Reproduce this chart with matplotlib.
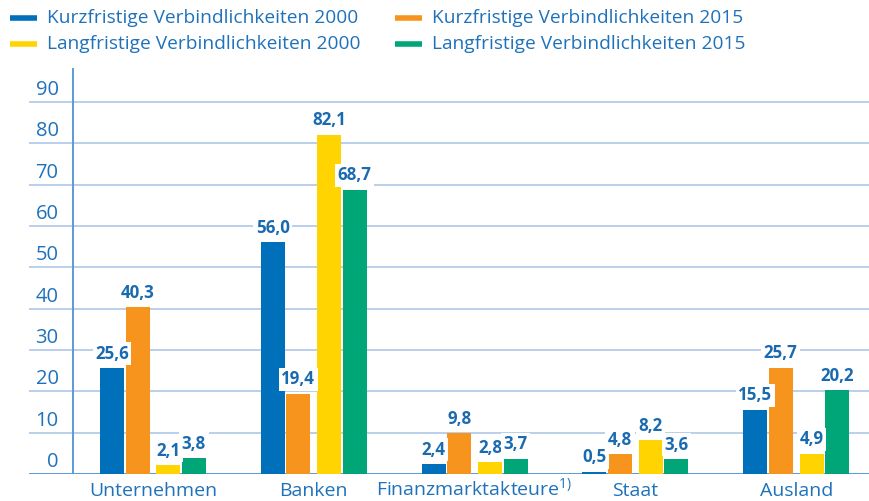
import matplotlib
matplotlib.use("Agg")
import matplotlib.pyplot as plt
import matplotlib.transforms as mtransforms
import numpy as np

categories = ["Unternehmen", "Banken", "Finanzmarktakteure$^{\\mathregular{1)}}$", "Staat", "Ausland"]
series_names = ["Kurzfristige Verbindlichkeiten 2000", "Kurzfristige Verbindlichkeiten 2015",
                "Langfristige Verbindlichkeiten 2000", "Langfristige Verbindlichkeiten 2015"]
kurz_2000 = [25.6, 56.0, 2.4, 0.5, 15.5]
kurz_2015 = [40.3, 19.4, 9.8, 4.8, 25.7]
lang_2000 = [2.1, 82.1, 2.8, 8.2, 4.9]
lang_2015 = [3.8, 68.7, 3.7, 3.6, 20.2]
yticks = [0, 10, 20, 30, 40, 50, 60, 70, 80, 90]

colors = ["#0070BA", "#F7941D", "#FFD400", "#00A678"]
text_blue = "#1F72BA"
label_blue = "#1A6AB0"
grid_col = "#AEC8E8"
axis_col = "#5B9BD5"

FONT = "Open Sans"
plt.rcParams["font.family"] = [FONT, "DejaVu Sans"]
plt.rcParams["mathtext.fontset"] = "custom"
plt.rcParams["mathtext.rm"] = FONT

fig = plt.figure(figsize=(8.7, 5.01), dpi=100)
ax = fig.add_axes([29 / 870, 27 / 501, 841 / 870, 406 / 501])
ax.set_xlim(-0.771, 4.459)
ax.set_ylim(0, 98.2)

for s in ax.spines.values():
    s.set_visible(False)

for t in yticks:
    if t == 0:
        ax.axhline(0, color=axis_col, lw=1.4, zorder=1)
    else:
        ax.axhline(t, color=grid_col, lw=1.2, zorder=0)
    ax.text(-0.587, t + 0.45, str(t), ha="right", va="bottom", fontsize=14.5,
            color=text_blue)
ax.axvline(-0.5, color=axis_col, lw=1.4, zorder=1)

x = np.arange(len(categories))
offsets = [-0.255, -0.096, 0.096, 0.255]
width = 0.149
data = [kurz_2000, kurz_2015, lang_2000, lang_2015]
for vals, off, col in zip(data, offsets, colors):
    bars = ax.bar(x + off, vals, width=width, color=col, zorder=2)
    for b, v in zip(bars, vals):
        ax.annotate(f"{v:.1f}".replace(".", ","),
                    (b.get_x() + b.get_width() / 2, v),
                    xytext=(0, 4), textcoords="offset points",
                    ha="center", va="bottom", fontsize=12.2, fontweight="bold",
                    color=label_blue, zorder=3,
                    bbox=dict(boxstyle="square,pad=0.15", fc="white", ec="none"))

ax.set_xticks([])
ax.set_yticks([])
trans = mtransforms.blended_transform_factory(ax.transData, ax.transAxes)
for xi, cat in zip(x, categories):
    ax.text(xi, -22.5 / 406, cat, transform=trans, ha="center", va="baseline",
            fontsize=14, color=text_blue, clip_on=False)

# legend
leg_items = [(series_names[0], colors[0], 10, 18), (series_names[1], colors[1], 395, 18),
             (series_names[2], colors[2], 10, 44), (series_names[3], colors[3], 395, 44)]
for name, col, px, py in leg_items:
    yf = 1 - py / 501
    fig.add_artist(plt.Line2D([px / 870, (px + 27) / 870], [yf, yf], color=col, lw=4,
                              solid_capstyle="butt"))
    fig.text((px + 37) / 870, yf, name, ha="left", va="center", fontsize=13.8,
             color=text_blue)

fig.savefig("out.png", dpi=100, facecolor="white")
